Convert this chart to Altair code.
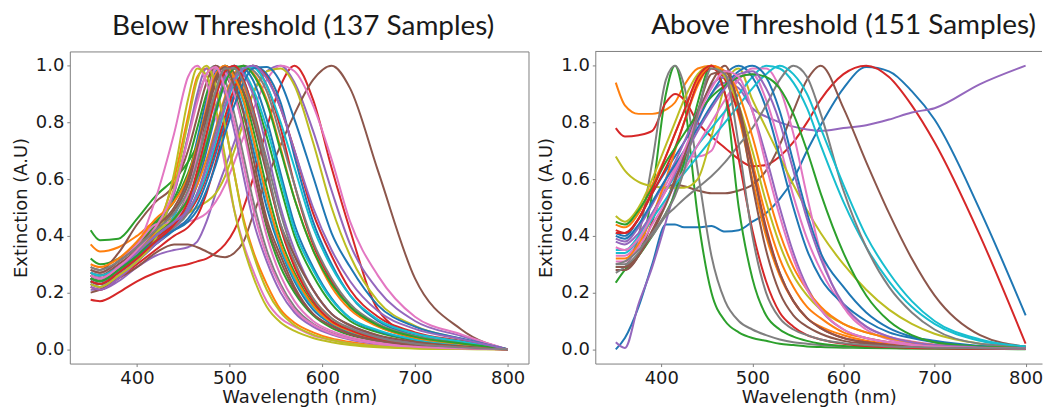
import altair as alt
import pandas as pd

TAB10 = ["#1f77b4", "#ff7f0e", "#2ca02c", "#d62728", "#9467bd",
         "#8c564b", "#e377c2", "#7f7f7f", "#bcbd22", "#17becf"]

LEFT_TITLE = "Below Threshold (137 Samples)"
RIGHT_TITLE = "Above Threshold (151 Samples)"
X_TITLE = "Wavelength (nm)"
Y_TITLE = "Extinction (A.U)"
X_TICKS = [400, 500, 600, 700, 800]
Y_TICKS = [0.0, 0.2, 0.4, 0.6, 0.8, 1.0]

# ---- left panel (below threshold) ----
LEFT_WL = [350, 360, 380, 400, 420, 440, 455, 465, 475, 485, 495, 505,
           515, 525, 540, 555, 570, 590, 610, 630, 660, 700, 750, 800]

B00 = [.27,.26,.29,.34,.40,.47,.60,.74,.88,.98,.99,.94,.84,.71,.50,.35,.24,.14,.09,.06,.035,.017,.007,0]
B01 = [.37,.345,.36,.40,.45,.46,.50,.60,.75,.90,.99,.99,.93,.83,.63,.43,.30,.18,.11,.074,.041,.02,.007,0]
B02 = [.42,.385,.39,.46,.54,.60,.66,.72,.81,.90,.97,1.0,.975,.91,.75,.57,.40,.26,.16,.10,.06,.031,.014,0]
B03 = [.175,.17,.20,.24,.27,.29,.30,.31,.32,.34,.37,.42,.50,.60,.78,.93,1.0,.88,.64,.42,.14,.045,.015,0]
B04 = [.21,.21,.24,.29,.33,.35,.36,.38,.45,.55,.64,.73,.82,.90,.98,1.0,.94,.77,.56,.37,.21,.10,.047,0]
B05 = [.20,.21,.25,.29,.34,.37,.37,.36,.345,.33,.325,.34,.38,.47,.60,.72,.83,.95,1.0,.92,.63,.25,.07,0]
B06 = [.26,.25,.28,.33,.39,.43,.45,.46,.48,.52,.58,.66,.75,.84,.95,1.0,.98,.86,.67,.45,.26,.115,.053,0]
B07 = [.25,.24,.28,.33,.41,.55,.75,.88,.97,1.0,.95,.83,.68,.53,.35,.23,.15,.09,.058,.04,.021,.01,.004,0]
B08 = [.26,.25,.29,.34,.41,.46,.48,.50,.52,.55,.61,.70,.80,.90,.98,.99,.93,.73,.50,.33,.17,.083,.037,0]
B09 = [.24,.23,.27,.32,.38,.47,.60,.72,.85,.96,1.0,.95,.87,.74,.53,.36,.25,.15,.094,.063,.036,.018,.007,0]
B10 = [.23,.22,.26,.31,.37,.43,.50,.58,.70,.83,.94,.99,.99,.95,.81,.62,.44,.29,.18,.11,.065,.034,.015,0]
B11 = [.25,.24,.28,.33,.42,.60,.82,.96,.99,.91,.79,.62,.46,.35,.23,.14,.094,.06,.038,.026,.013,.006,.002,0]
B12 = [.32,.30,.32,.37,.44,.53,.66,.78,.90,.99,.98,.91,.79,.64,.43,.29,.20,.12,.076,.05,.029,.013,.005,0]
B13 = [.22,.21,.25,.30,.35,.40,.43,.47,.55,.66,.78,.89,.97,1.0,.93,.78,.58,.37,.24,.15,.083,.04,.018,0]
B14 = [.22,.21,.25,.31,.40,.55,.75,.90,.99,.975,.90,.77,.61,.46,.31,.20,.13,.08,.052,.035,.019,.008,.003,0]
B15 = [.29,.28,.34,.44,.52,.58,.70,.82,.94,1.0,.97,.90,.78,.64,.44,.31,.21,.125,.083,.055,.033,.016,.006,0]
B16 = [.27,.26,.30,.36,.53,.76,.96,1.0,.94,.82,.65,.49,.37,.28,.17,.11,.08,.049,.033,.021,.011,.005,.002,0]
B17 = [.26,.25,.29,.34,.40,.46,.55,.66,.79,.91,.99,.99,.95,.85,.67,.48,.33,.21,.125,.085,.048,.025,.01,0]
B18 = [.24,.23,.27,.32,.40,.62,.88,.99,.965,.85,.68,.49,.36,.26,.15,.095,.065,.04,.025,.015,.007,.003,.001,0]
B19 = [.26,.25,.28,.33,.39,.45,.52,.61,.73,.85,.95,1.0,.98,.92,.78,.60,.42,.28,.175,.11,.068,.035,.016,0]
B20 = [.24,.23,.27,.32,.37,.42,.46,.51,.59,.69,.80,.90,.97,1.0,.97,.87,.68,.45,.30,.19,.10,.05,.023,0]
B21 = [.26,.25,.29,.34,.40,.46,.52,.58,.67,.78,.89,.97,1.0,.975,.88,.71,.53,.35,.22,.14,.08,.041,.019,0]
B22 = [.28,.27,.31,.37,.45,.52,.62,.72,.84,.95,1.0,.97,.90,.78,.57,.39,.27,.16,.10,.068,.038,.019,.007,0]
B23 = [.25,.24,.28,.33,.39,.44,.48,.53,.61,.71,.82,.92,.98,1.0,.96,.85,.70,.48,.33,.21,.115,.06,.03,0]
B24 = [.23,.22,.26,.31,.37,.43,.50,.60,.72,.85,.96,1.0,.97,.90,.71,.50,.35,.21,.125,.083,.046,.022,.008,0]
B25 = [.27,.26,.30,.35,.42,.49,.58,.69,.82,.94,1.0,.975,.91,.81,.62,.44,.33,.21,.125,.085,.05,.027,.011,0]
B26 = [.28,.27,.31,.37,.44,.45,.55,.68,.86,.99,.975,.90,.77,.61,.40,.26,.17,.10,.065,.043,.024,.011,.004,0]
B27 = [.25,.24,.28,.33,.38,.43,.48,.55,.65,.77,.88,.96,1.0,.985,.91,.75,.58,.38,.25,.16,.09,.048,.022,0]
B28 = [.23,.22,.26,.31,.39,.57,.80,.95,1.0,.93,.79,.62,.45,.34,.21,.13,.085,.052,.033,.021,.011,.004,.001,0]
B29 = [.27,.26,.29,.34,.40,.45,.49,.54,.62,.73,.85,.94,.99,.995,.93,.80,.64,.43,.29,.19,.105,.056,.028,0]
B30 = [.25,.24,.28,.33,.38,.42,.45,.49,.56,.65,.76,.86,.94,.99,.995,.94,.81,.61,.41,.29,.155,.08,.038,0]
B31 = [.30,.29,.32,.38,.46,.52,.61,.72,.85,.97,1.0,.96,.88,.75,.54,.37,.26,.155,.095,.065,.037,.018,.007,0]
B32 = [.25,.24,.28,.33,.40,.46,.53,.61,.72,.84,.94,.99,1.0,.97,.87,.70,.53,.35,.23,.15,.085,.044,.021,0]
B33 = [.24,.23,.27,.32,.38,.44,.52,.63,.76,.89,.98,1.0,.95,.85,.64,.43,.29,.17,.10,.068,.037,.018,.006,0]
B34 = [.26,.25,.29,.34,.40,.45,.49,.55,.64,.75,.86,.95,.99,1.0,.955,.85,.70,.50,.35,.24,.135,.072,.036,0]
B35 = [.28,.27,.31,.36,.43,.50,.60,.71,.84,.96,.995,.93,.83,.68,.46,.33,.22,.125,.082,.053,.031,.014,.005,0]
B36 = [.26,.25,.29,.35,.43,.56,.74,.87,.97,.995,.92,.80,.65,.50,.33,.22,.14,.087,.056,.037,.02,.009,.003,0]
B37 = [.29,.28,.31,.36,.42,.48,.56,.66,.79,.91,.99,.99,.94,.84,.64,.44,.31,.18,.11,.075,.042,.02,.007,0]

LEFT_SERIES = [B00, B01, B02, B03, B04, B05, B06, B07, B08, B09,
               B10, B11, B12, B13, B14, B15, B16, B17, B18, B19,
               B20, B21, B22, B23, B24, B25, B26, B27, B28, B29,
               B30, B31, B32, B33, B34, B35, B36, B37]

# ---- right panel (above threshold) ----
RIGHT_WL = [350, 360, 375, 390, 405, 415, 425, 440, 455, 470, 485, 500,
            515, 530, 545, 560, 575, 600, 625, 650, 675, 700, 750, 800]

A00 = [.0,.04,.15,.30,.44,.44,.43,.43,.435,.415,.42,.45,.48,.53,.60,.70,.79,.92,.995,.98,.91,.81,.49,.12]
A01 = [.94,.86,.83,.83,.845,.87,.93,.99,1.0,.97,.85,.66,.47,.32,.22,.15,.11,.06,.04,.025,.015,.01,.005,.005]
A02 = [.29,.29,.33,.55,.90,1.0,.88,.47,.20,.10,.06,.04,.03,.02,.015,.01,.008,.006,.005,.004,.003,.003,.002,.001]
A03 = [.78,.75,.755,.77,.87,.90,.88,.80,.75,.71,.67,.645,.65,.68,.73,.80,.88,.97,1.0,.96,.86,.73,.40,.02]
A04 = [.025,.005,.16,.29,.45,.56,.66,.80,.90,.94,.92,.85,.82,.80,.785,.775,.77,.78,.79,.81,.835,.85,.935,1.0]
A05 = [.28,.28,.33,.45,.57,.58,.575,.56,.55,.55,.56,.58,.63,.72,.84,.95,1.0,.85,.66,.48,.32,.19,.05,.01]
A06 = [.33,.33,.38,.47,.58,.64,.68,.68,.70,.84,.96,.97,.88,.72,.54,.39,.28,.15,.08,.045,.028,.017,.008,.004]
A07 = [.30,.30,.40,.66,.95,1.0,.93,.63,.33,.17,.10,.07,.05,.035,.025,.02,.015,.01,.008,.006,.005,.004,.01,.01]
A08 = [.68,.63,.59,.575,.57,.57,.57,.60,.75,.93,.99,.88,.78,.68,.58,.49,.41,.30,.21,.14,.09,.055,.02,.006]
A09 = [.35,.35,.40,.48,.56,.61,.65,.72,.78,.84,.90,.96,1.0,.99,.94,.85,.72,.52,.36,.24,.15,.09,.03,.008]
A10 = [.41,.40,.46,.55,.63,.68,.73,.81,.90,.97,1.0,.96,.85,.68,.50,.35,.25,.16,.10,.06,.04,.025,.01,.005]
A11 = [.32,.32,.37,.47,.60,.70,.80,.93,1.0,.96,.82,.60,.40,.26,.17,.11,.08,.05,.03,.02,.015,.01,.005,.003]
A12 = [.235,.28,.33,.40,.48,.55,.66,.87,1.0,.90,.50,.25,.12,.07,.045,.03,.02,.012,.008,.005,.004,.003,.002,0]
A13 = [.42,.41,.46,.55,.64,.71,.80,.94,.99,.95,.83,.64,.43,.27,.17,.11,.075,.04,.025,.015,.01,.008,.005,.003]
A14 = [.39,.38,.43,.51,.60,.66,.73,.84,.93,.96,.94,.84,.68,.50,.34,.22,.14,.07,.04,.025,.015,.01,.005,.003]
A15 = [.28,.28,.33,.42,.52,.60,.68,.82,.94,1.0,.85,.58,.35,.20,.12,.08,.055,.03,.02,.012,.008,.005,.003,.002]
A16 = [.31,.31,.36,.44,.52,.58,.63,.72,.80,.88,.95,.99,.99,.92,.76,.54,.34,.15,.07,.035,.02,.012,.006,.003]
A17 = [.27,.29,.34,.40,.47,.50,.53,.57,.61,.66,.72,.78,.86,.95,1.0,.96,.83,.56,.36,.22,.13,.07,.02,.01]
A18 = [.47,.45,.50,.60,.72,.80,.88,.97,1.0,.96,.86,.70,.52,.37,.26,.19,.14,.09,.06,.04,.025,.015,.008,.005]
A19 = [.34,.34,.39,.46,.53,.58,.62,.68,.74,.80,.86,.92,.97,1.0,.97,.90,.78,.58,.40,.27,.17,.10,.035,.01]
A20 = [.40,.39,.44,.52,.60,.65,.70,.78,.86,.93,.98,1.0,.96,.84,.66,.48,.34,.22,.13,.075,.045,.03,.012,.005]
A21 = [.44,.43,.48,.58,.68,.76,.84,.95,1.0,.98,.90,.75,.57,.41,.29,.21,.15,.09,.06,.04,.025,.015,.008,.004]
A22 = [.45,.44,.49,.57,.66,.71,.76,.83,.89,.93,.96,.97,.96,.92,.83,.70,.55,.34,.19,.10,.05,.025,.01,.005]
A23 = [.41,.41,.46,.56,.68,.76,.84,.96,1.0,.90,.67,.42,.24,.13,.08,.05,.035,.02,.012,.008,.005,.004,.002,.001]
A24 = [.38,.37,.41,.48,.56,.62,.68,.77,.85,.92,.97,.98,.92,.80,.63,.46,.32,.16,.08,.045,.025,.015,.007,.004]
A25 = [.29,.29,.33,.41,.51,.59,.68,.84,.97,.98,.86,.64,.42,.27,.17,.11,.075,.04,.025,.015,.01,.007,.004,.002]
A26 = [.36,.35,.39,.47,.56,.63,.70,.82,.92,.98,.96,.84,.65,.47,.32,.21,.14,.07,.04,.025,.015,.01,.005,.003]
A27 = [.30,.31,.35,.41,.48,.54,.63,.83,.99,.97,.72,.40,.20,.11,.07,.05,.035,.022,.015,.01,.008,.006,.004,.003]

RIGHT_SERIES = [A00, A01, A02, A03, A04, A05, A06, A07, A08, A09,
                A10, A11, A12, A13, A14, A15, A16, A17, A18, A19,
                A20, A21, A22, A23, A24, A25, A26, A27]

FRAME = "#808080"
TEXT = "#1a1a1a"
PLOT_H = 313
LEFT_W = 460
RIGHT_W = 448


def long_table(wl, series, prefix):
    rows = []
    for i, s in enumerate(series):
        for w, v in zip(wl, s):
            rows.append({"wl": w, "val": v, "sid": f"{prefix}{i:02d}"})
    return pd.DataFrame(rows)


def panel(wl, series, prefix, title, width, x_max, framed, title_dx):
    df = long_table(wl, series, prefix)
    ids = [f"{prefix}{i:02d}" for i in range(len(series))]
    cols = [TAB10[i % 10] for i in range(len(series))]
    x = alt.X("wl:Q",
              scale=alt.Scale(domain=[327.5, x_max], nice=False, zero=False),
              axis=alt.Axis(values=X_TICKS, format="d", title=X_TITLE,
                            domain=not framed, domainColor=FRAME))
    y = alt.Y("val:Q",
              scale=alt.Scale(domain=[-0.05, 1.05], nice=False, zero=False),
              axis=alt.Axis(values=Y_TICKS, format=".1f", title=Y_TITLE,
                            domain=not framed, domainColor=FRAME))
    lines = alt.Chart(df).mark_line(interpolate="monotone", strokeWidth=2).encode(
        x=x, y=y,
        color=alt.Color("sid:N", scale=alt.Scale(domain=ids, range=cols), legend=None),
        order=alt.Order("wl:Q"),
    )
    ttl = alt.TitleParams(title, font="Lato", fontSize=28, fontWeight="normal",
                          color=TEXT, anchor="middle", dx=title_dx, offset=11)
    if framed:
        return lines.properties(width=width, height=PLOT_H, title=ttl)
    top = alt.Chart(pd.DataFrame({"k": [0]})).mark_rule(color=FRAME, strokeWidth=1).encode(
        x=alt.value(0), x2=alt.value(width), y=alt.value(0))
    return alt.layer(lines, top).properties(
        width=width, height=PLOT_H, title=ttl,
        view=alt.ViewBackground(strokeOpacity=0))


left = panel(LEFT_WL, LEFT_SERIES, "b", LEFT_TITLE, LEFT_W, 822.5, True, 4)
right = panel(RIGHT_WL, RIGHT_SERIES, "a", RIGHT_TITLE, RIGHT_W, 818.0, False, 25)

chart = alt.hconcat(left, right, spacing=8).properties(
    padding={"left": 3, "top": 3, "right": 0, "bottom": 0}
).configure_view(stroke=FRAME, strokeWidth=1).configure_axis(
    labelFont="DejaVu Sans", labelFontSize=18, labelColor=TEXT,
    titleFont="DejaVu Sans", titleFontSize=18, titleFontWeight="normal",
    titleColor=TEXT, tickColor=FRAME, tickSize=3, labelPadding=3,
    grid=False
).configure_axisY(titlePadding=5).configure_axisX(titlePadding=1)

chart.save("out.html", embed_options={"renderer": "svg", "actions": False})
